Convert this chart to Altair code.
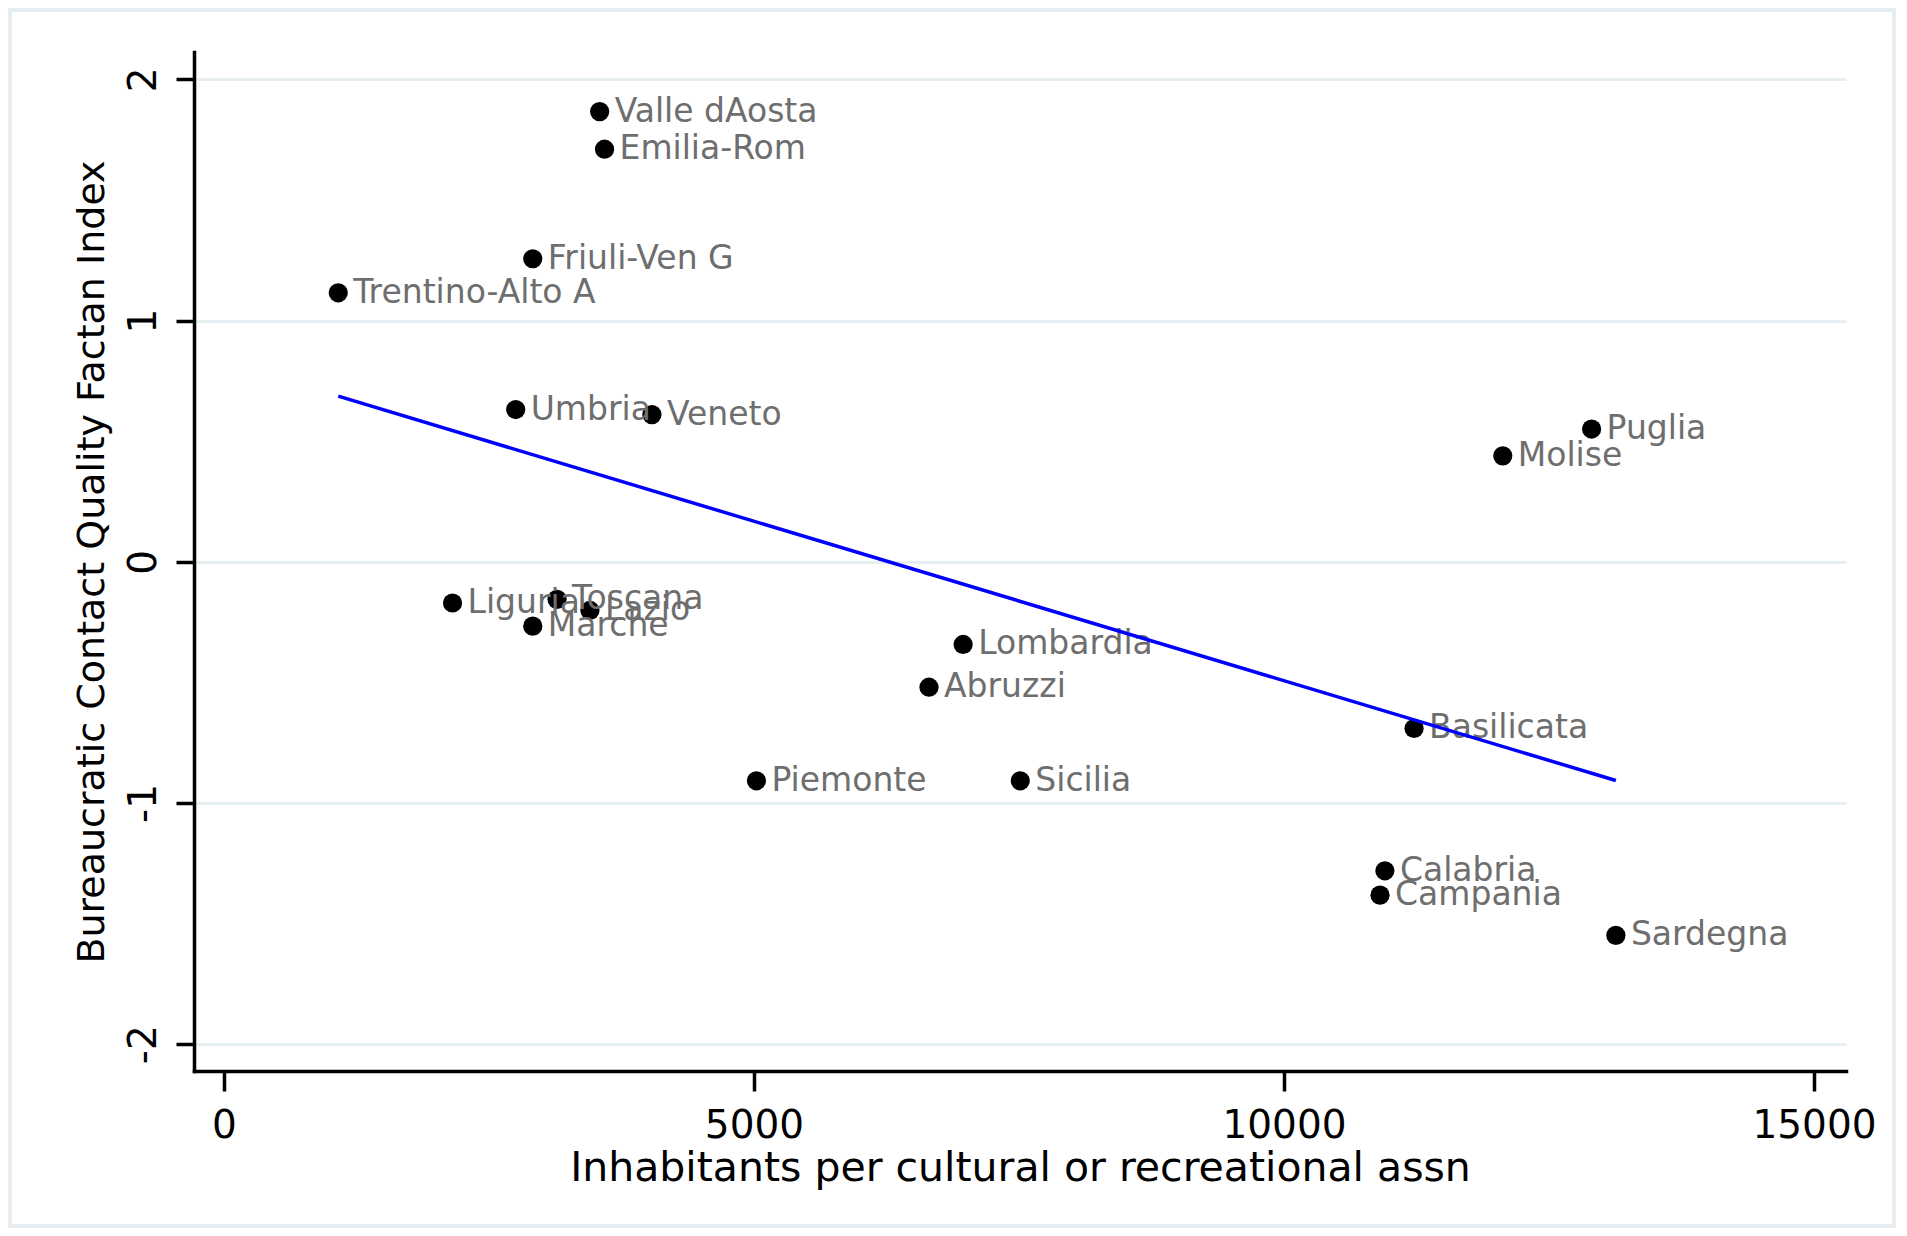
import altair as alt
import pandas as pd

# ---- data ----
regions = ["Valle dAosta", "Emilia-Rom", "Friuli-Ven G", "Trentino-Alto A", "Umbria",
           "Veneto", "Puglia", "Molise", "Liguria", "Toscana", "Lazio", "Marche",
           "Lombardia", "Abruzzi", "Basilicata", "Piemonte", "Sicilia", "Calabria",
           "Campania", "Sardegna"]
inhabitants = [3544, 3590, 2913, 1078, 2752, 4037, 12902, 12064, 2156, 3142, 3452, 2913,
               6973, 6651, 11227, 5023, 7512, 10952, 10906, 13131]
quality = [1.866, 1.710, 1.256, 1.115, 0.631, 0.610, 0.550, 0.439, -0.171, -0.156,
           -0.202, -0.267, -0.343, -0.520, -0.691, -0.908, -0.908, -1.281, -1.382, -1.549]
x_ticks = [0, 5000, 10000, 15000]
y_ticks = [-2, -1, 0, 1, 2]
x_title = "Inhabitants per cultural or recreational assn"
y_title = "Bureaucratic Contact Quality Factan Index"

df = pd.DataFrame({"region": regions, "x": inhabitants, "y": quality})

W, H = 1652, 1019
FONT = "DejaVu Sans"

xscale = alt.Scale(domain=[-283, 15302], nice=False, zero=False)
yscale = alt.Scale(domain=[-2.111, 2.113], nice=False, zero=False)

xaxis = alt.Axis(values=x_ticks, format="d", title=x_title,
                 tickSize=20, tickWidth=3.5, tickColor="black",
                 domainWidth=3.5, domainColor="black", domainCap="square",
                 labelFont=FONT, labelFontSize=39, labelColor="black", labelPadding=15,
                 titleFont=FONT, titleFontSize=41, titleFontWeight="normal",
                 titleColor="black", titlePadding=3, grid=False)
yaxis = alt.Axis(values=y_ticks, labelExpr="'' + datum.value", title=y_title,
                 labelAngle=270, labelAlign="center", labelBaseline="alphabetic",
                 tickSize=18, tickWidth=3.5, tickColor="black",
                 domainWidth=3.5, domainColor="black", domainCap="square",
                 labelFont=FONT, labelFontSize=39, labelColor="black", labelPadding=21,
                 titleFont=FONT, titleFontSize=38, titleFontWeight="normal",
                 titleColor="black", titlePadding=13,
                 grid=True, gridColor="#E6EEF1", gridWidth=3)

base = alt.Chart(df)

frame = alt.Chart(pd.DataFrame({"k": [0]})).mark_rect(
    fillOpacity=0, stroke="#E6EEF1", strokeWidth=4
).encode(x=alt.value(-184), x2=alt.value(1700), y=alt.value(-42), y2=alt.value(1174))

points = base.mark_circle(size=370, color="black", opacity=1).encode(
    x=alt.X("x:Q", scale=xscale, axis=xaxis),
    y=alt.Y("y:Q", scale=yscale, axis=yaxis),
)

labels = base.mark_text(align="left", baseline="middle", dx=15, font=FONT,
                        fontSize=33, color="#6E6E6E").encode(
    x="x:Q", y="y:Q", text="region:N")

fit = base.transform_regression("x", "y").mark_line(
    color="#0000FF", strokeWidth=3.5).encode(x="x:Q", y="y:Q")

chart = alt.layer(frame, points, labels, fit).properties(
    width=W, height=H,
    autosize=alt.AutoSizeParams(type="none"),
    padding={"left": 186, "top": 44, "right": 53, "bottom": 157},
    background="white",
).configure_view(strokeWidth=0)

chart.save("out.html", embed_options={"renderer": "svg", "actions": False})
